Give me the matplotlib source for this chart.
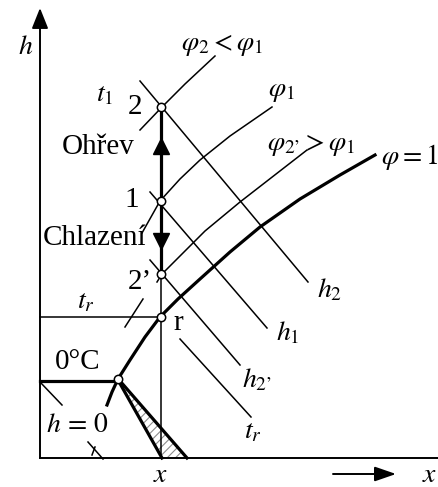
import matplotlib.pyplot as plt
import numpy as np

# h-x diagram (Mollier) - ohrev a chlazeni vlhkeho vzduchu
# souradnice: x = merna vlhkost (vodorovne), h = entalpie (svisle), schematicke jednotky

plt.rcParams['font.family'] = ['Liberation Serif', 'DejaVu Serif']
plt.rcParams['mathtext.fontset'] = 'stix'

# stavove body (vsechny pri stejnem x)
x_state = 121
h_points = {'2': 351, '1': 257, "2'": 184, 'r': 141}
zero_point = (78, 79)

# krivka nasyceni phi = 1
sat_x = [67, 72, 78, 90, 105, 120, 138, 160, 190, 220, 260, 300, 335]
sat_h = [53, 66, 79, 98, 121, 141, 159, 179, 206, 231, 259, 283, 303]

# krivky konstantni relativni vlhkosti
phi1_x = [102, 120, 140, 160, 190, 232]
phi1_h = [225, 257, 279, 298, 322, 351]
phi2_x = [100, 122, 145, 175]
phi2_h = [328, 351, 374, 402]
phi2p_x = [117, 122, 145, 165, 200, 267]
phi2p_h = [176, 184, 207, 227, 256, 308]

# izentalpy (usecky)
isenthalps = {
    'h2': ([100, 268], [377, 176]),
    'h1': ([110, 227], [266, 130]),
    'h2p': ([110, 200], [198, 93]),
    'tr_fog': ([140, 211], [119, 41]),
    'tr_tick': ([85, 103], [131, 159]),
    'h0_a': ([0, 22], [76, 53]),
    'h0_b': ([48, 63], [16, -1]),
    'h0_c': ([52, 55], [3, 11]),
}

# izotermy
tr_h = 141
t0_h = 77
fog_a = ([78, 122], [78, 0])
fog_b = ([80, 147], [77, 0])

# popisky: (text, x, h, velikost)
labels = [
    ('$h$', -14, 411, 20),
    (r'$\varphi_2 < \varphi_1$', 182, 413, 20),
    ('$t_1$', 65, 363, 20),
    ('2', 95, 351, 21),
    (r'$\varphi_1$', 241, 366, 20),
    ('Ohřev', 58, 311, 21),
    (r'$\varphi_{2’} > \varphi_1$', 271, 313, 20),
    (r'$\varphi = 1$', 370, 301, 20),
    ('1', 92, 258, 21),
    ('Chlazení', 55, 220, 21),
    ('2’', 100, 176, 21),
    ('$h_2$', 290, 168, 20),
    ('$t_r$', 46, 156, 20),
    ('r', 138, 135, 21),
    ('$h_1$', 248, 125, 20),
    ('0°C', 38, 96, 21),
    ('$h_{2’}$', 217, 78, 20),
    (r'$h\,=\,0$', 37, 33, 20),
    ('$t_r$', 213, 26, 20),
    ('$x$', 121, -17, 20),
    ('$x$', 390, -17, 20),
]

fig = plt.figure(figsize=(4.39, 4.87), dpi=100)
ax = fig.add_axes([0, 0, 1, 1])
ax.set_xlim(-40, 399)
ax.set_ylim(-29, 458)
ax.axis('off')

thin = 1.1
thick = 2.3

# osy
ax.plot([0, 399], [0, 0], color='k', lw=1.4)
ax.annotate('', xy=(0, 450), xytext=(0, 0),
            arrowprops=dict(arrowstyle='-|>,head_length=1.25,head_width=0.5',
                            mutation_scale=10, lw=1.4, color='k', shrinkA=0, shrinkB=0))
ax.annotate('', xy=(356, -16), xytext=(293, -16),
            arrowprops=dict(arrowstyle='-|>,head_length=1.3,head_width=0.45',
                            mutation_scale=10, lw=1.4, color='k', shrinkA=0, shrinkB=0))

# svisla cara x = konst.
ax.plot([x_state, x_state], [0, h_points["2'"]], color='k', lw=thin)
ax.plot([x_state, x_state], [h_points["2'"], h_points['2']], color='k', lw=thick)
ax.plot([x_state], [312], marker='^', ms=12, color='k', ls='none')
ax.plot([x_state], [217], marker='v', ms=12, color='k', ls='none')

# izotermy vlevo
ax.plot([0, x_state], [tr_h, tr_h], color='k', lw=thin)
ax.plot([0, zero_point[0]], [t0_h, t0_h], color='k', lw=thick)

# mlhova oblast pri 0 °C
ax.plot(*fog_a, color='k', lw=thick)
ax.plot(*fog_b, color='k', lw=thick)
plt.rcParams['hatch.linewidth'] = 0.8
ax.fill([fog_a[0][0], fog_b[0][1], fog_a[0][1]], [fog_a[1][0], 0, 0],
        facecolor='none', edgecolor='0.55', hatch='////', lw=0)

# krivky phi
ax.plot(sat_x, sat_h, color='k', lw=thick)
ax.plot(phi1_x, phi1_h, color='k', lw=thin)
ax.plot(phi2_x, phi2_h, color='k', lw=thin)
ax.plot(phi2p_x, phi2p_h, color='k', lw=thin)

for xs, hs in isenthalps.values():
    ax.plot(xs, hs, color='k', lw=thin)

# body
for h in h_points.values():
    ax.plot(x_state, h, 'o', ms=6, mfc='white', mec='k', mew=1.1, zorder=5)
ax.plot(*zero_point, 'o', ms=6, mfc='white', mec='k', mew=1.1, zorder=5)

for text, tx, ty, fs in labels:
    ax.text(tx, ty, text, fontsize=fs, ha='center', va='center')

fig.savefig('out.png', dpi=100)
